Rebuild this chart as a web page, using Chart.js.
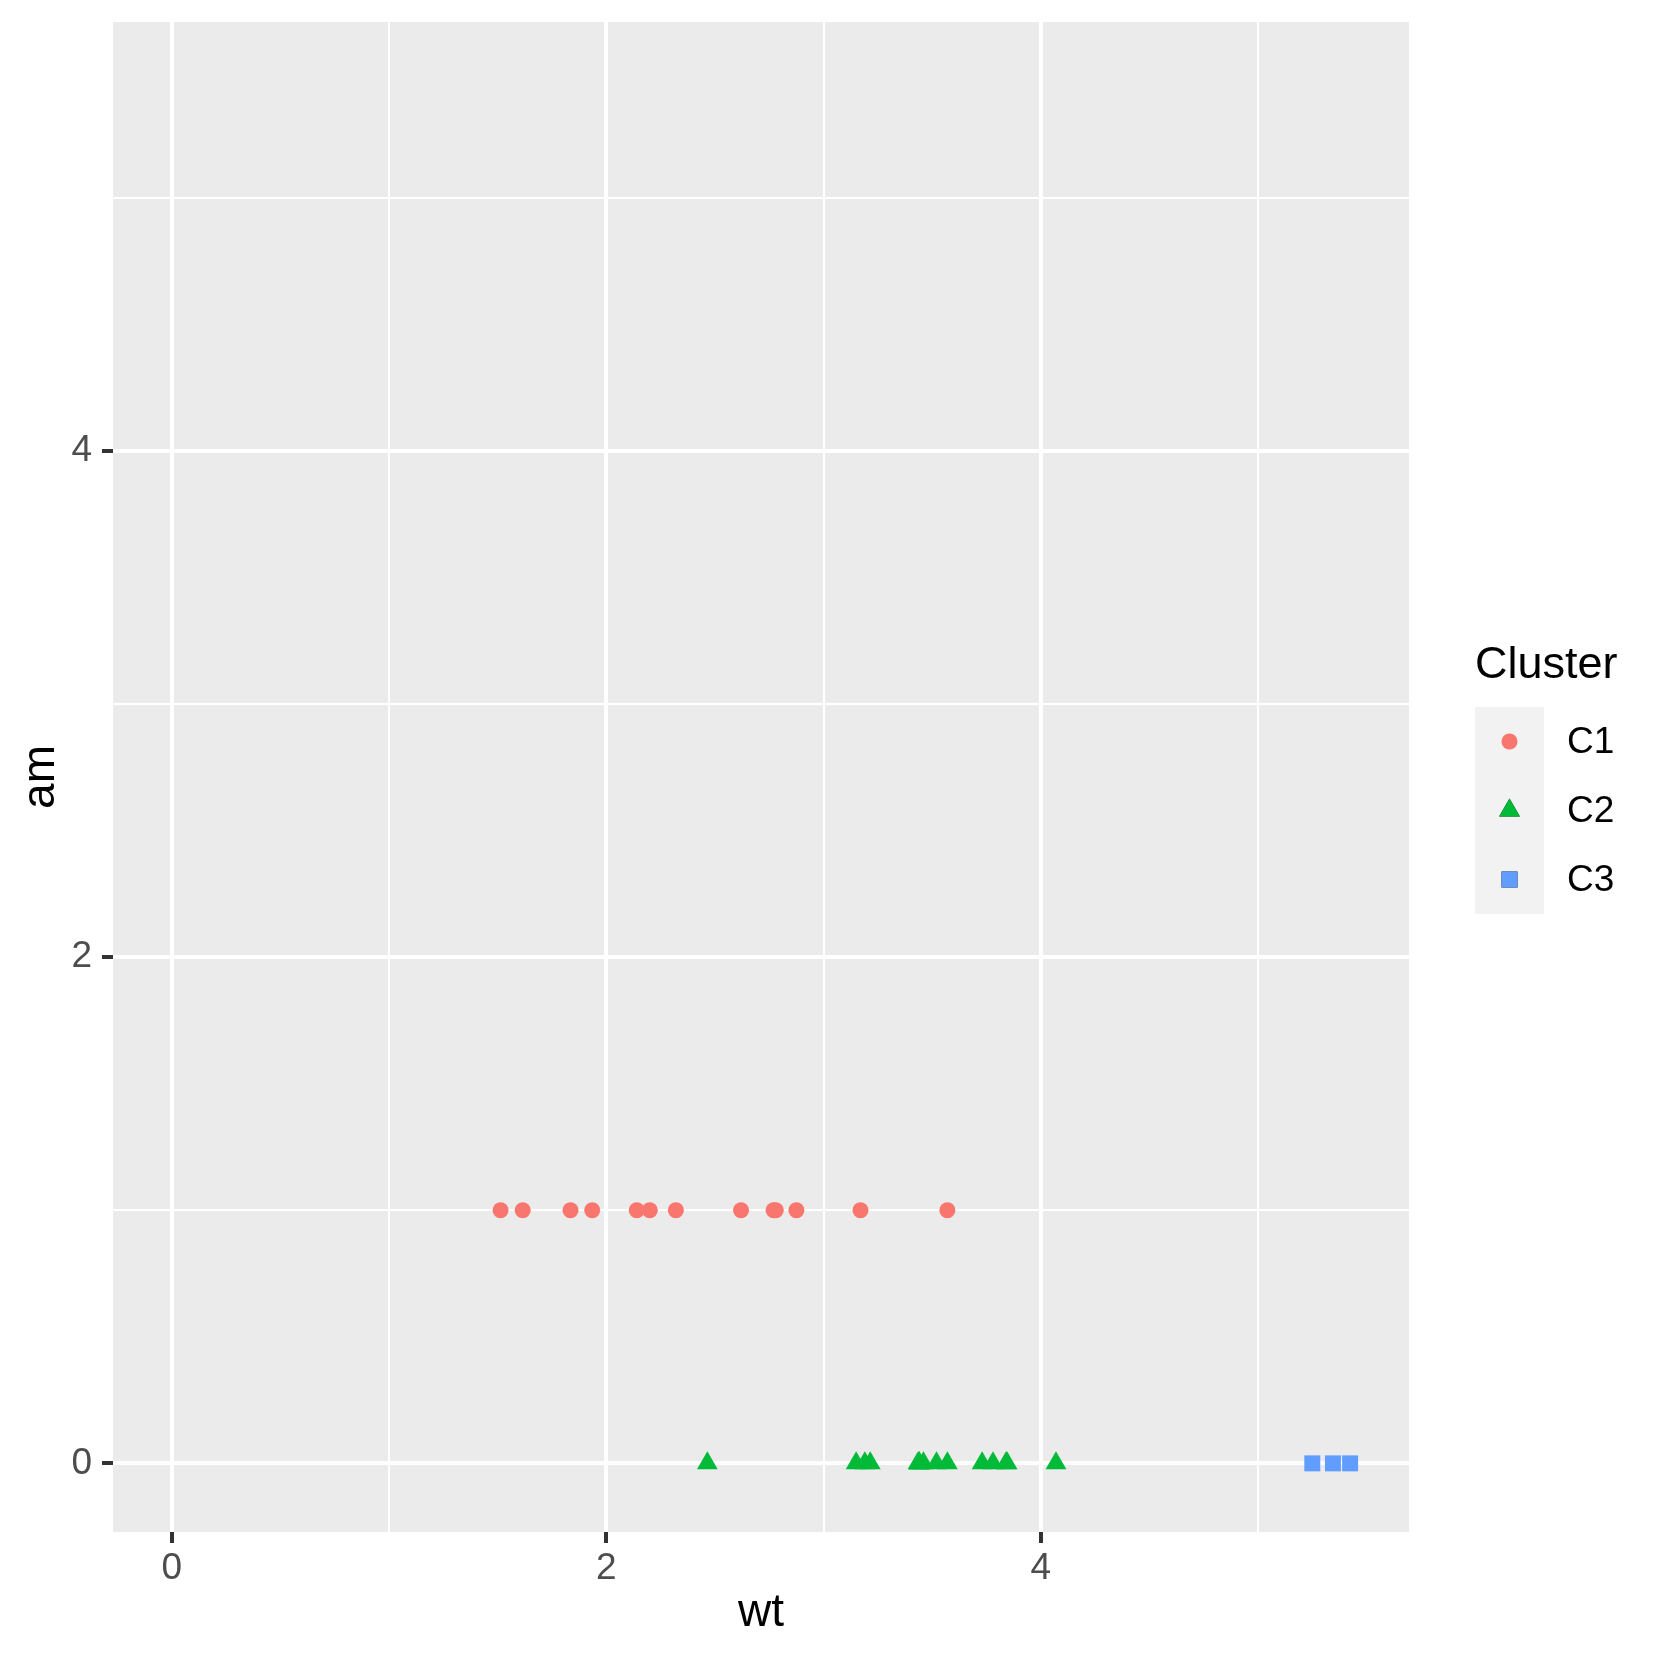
<!DOCTYPE html>
<html>
<head>
<meta charset="utf-8">
<script src="https://cdn.jsdelivr.net/npm/chart.js@4.4.0/dist/chart.umd.min.js"></script>
<style>
  html, body { margin: 0; padding: 0; background: #fff; }
  #plot { display: block; }
</style>
</head>
<body>
<canvas id="plot" width="1661" height="1657"></canvas>
<script>
// mtcars: wt vs am, coloured by k-means cluster
const clusterNames = ['C1', 'C2', 'C3']
const c1Wt = [1.513, 1.615, 1.835, 1.935, 2.140, 2.200, 2.320, 2.620, 2.770, 2.780, 2.875, 3.170, 3.570]
const c1Am = [1, 1, 1, 1, 1, 1, 1, 1, 1, 1, 1, 1, 1]
const c2Wt = [2.465, 3.150, 3.190, 3.215, 3.435, 3.440, 3.440, 3.440, 3.460, 3.520, 3.570, 3.730, 3.780, 3.840, 3.845, 4.070]
const c2Am = [0, 0, 0, 0, 0, 0, 0, 0, 0, 0, 0, 0, 0, 0, 0, 0]
const c3Wt = [5.250, 5.345, 5.424]
const c3Am = [0, 0, 0]
const xTicks = [0, 1, 2, 3, 4, 5]
const yTicks = [0, 1, 2, 3, 4, 5]
const axisMin = -0.2712
const axisMax = 5.6952

const toPoints = (xs, ys) => xs.map((x, i) => ({ x: x, y: ys[i] }))

const FONT = '"Liberation Sans", Arial, sans-serif'

const panelBg = {
  id: 'panelBg',
  beforeDraw(chart) {
    const { ctx, chartArea: a } = chart
    ctx.save()
    ctx.fillStyle = '#EBEBEB'
    ctx.fillRect(a.left, a.top, a.right - a.left, a.bottom - a.top)
    ctx.restore()
  }
}

// ggplot-like legend on the right
const ggLegend = {
  id: 'ggLegend',
  afterDraw(chart) {
    const ctx = chart.ctx
    const left = 1475, keyW = 69, keyH = 69, top = 707
    ctx.save()
    ctx.fillStyle = '#000'
    ctx.font = '45px ' + FONT
    ctx.textBaseline = 'alphabetic'
    ctx.textAlign = 'left'
    ctx.fillText('Cluster', left, 678)
    ctx.fillStyle = '#F2F2F2'
    ctx.fillRect(left, top, keyW, keyH * chart.data.datasets.length)
    chart.data.datasets.forEach((ds, i) => {
      const cy = top + keyH * i + keyH / 2
      const cx = left + keyW / 2
      Chart.helpers.drawPoint(ctx, {
        pointStyle: ds.pointStyle,
        radius: ds.pointRadius,
        borderWidth: 0,
        rotation: 0
      }, cx, cy)
      ctx.fillStyle = ds.backgroundColor
      ctx.fill()
      ctx.fillStyle = '#000'
      ctx.font = '37px ' + FONT
      ctx.textBaseline = 'middle'
      ctx.fillText(ds.label, 1567, cy + 1)
    })
    ctx.restore()
  }
}

const gridWidth = (c) => (c.tick && c.tick.value % 2 === 0 ? 4 : 2)
const tickColor = (c) => (c.tick && c.tick.value % 2 === 0 ? '#333333' : 'rgba(0,0,0,0)')
const tickLabel = (v) => (v % 2 === 0 ? String(v) : '')

new Chart(document.getElementById('plot'), {
  type: 'scatter',
  data: {
    datasets: [
      { label: clusterNames[0], data: toPoints(c1Wt, c1Am), backgroundColor: '#F8766D', pointStyle: 'circle', pointRadius: 8 },
      { label: clusterNames[1], data: toPoints(c2Wt, c2Am), backgroundColor: '#00BA38', pointStyle: 'triangle', pointRadius: 12 },
      { label: clusterNames[2], data: toPoints(c3Wt, c3Am), backgroundColor: '#619CFF', pointStyle: 'rect', pointRadius: 11.3 }
    ]
  },
  options: {
    responsive: false,
    animation: false,
    layout: { padding: { top: 22, right: 252, left: 0, bottom: 0 } },
    elements: { point: { borderWidth: 0, hoverRadius: 8 } },
    plugins: {
      legend: { display: false },
      tooltip: { enabled: false }
    },
    scales: {
      x: {
        type: 'linear',
        min: axisMin,
        max: axisMax,
        afterBuildTicks: (s) => { s.ticks = xTicks.map(v => ({ value: v })) },
        afterFit: (s) => { s.height = 125; s.paddingLeft = 0; s.paddingRight = 0 },
        border: { display: false },
        grid: { color: '#FFFFFF', lineWidth: gridWidth, tickColor: tickColor, tickWidth: 4, tickLength: 11 },
        ticks: { callback: tickLabel, color: '#4D4D4D', font: { family: FONT, size: 37 }, padding: 4, maxRotation: 0 },
        title: { display: true, text: 'wt', color: '#000', font: { family: FONT, size: 46 }, padding: { top: 0, bottom: 16 } }
      },
      y: {
        type: 'linear',
        min: axisMin,
        max: axisMax,
        afterBuildTicks: (s) => { s.ticks = yTicks.map(v => ({ value: v })) },
        afterFit: (s) => { s.width = 113; s.paddingTop = 0; s.paddingBottom = 0 },
        border: { display: false },
        grid: { color: '#FFFFFF', lineWidth: gridWidth, tickColor: tickColor, tickWidth: 4, tickLength: 11 },
        ticks: { callback: tickLabel, color: '#4D4D4D', font: { family: FONT, size: 37 }, padding: 10 },
        title: { display: true, text: 'am', color: '#000', font: { family: FONT, size: 46 }, padding: { top: 14, bottom: 0 } }
      }
    }
  },
  plugins: [panelBg, ggLegend]
})
</script>
</body>
</html>
